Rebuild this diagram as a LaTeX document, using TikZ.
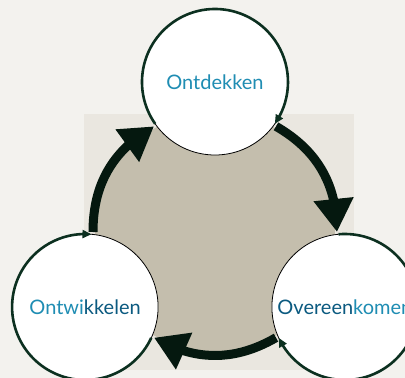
\documentclass[tikz,border=0pt]{standalone}
\usepackage{fontspec}
\setmainfont{Lato}
\usetikzlibrary{arrows.meta,bending}
\definecolor{achter}{HTML}{F3F2EE}
\definecolor{vlak}{HTML}{EAE7E0}
\definecolor{zand}{HTML}{C4BEAD}
\definecolor{donker}{HTML}{05180F}
\definecolor{rand}{HTML}{0C3020}
\definecolor{blauw}{HTML}{1F8DB3}
\definecolor{diep}{HTML}{0B5A80}

\begin{document}
\begin{tikzpicture}[x=1pt,y=1pt,
    bol/.style={circle,draw=black,line width=0.8pt,fill=white,minimum size=146pt,
        inner sep=0pt,outer sep=0pt,font=\fontsize{20}{24}\selectfont,text=blauw},
    randpijl/.style={draw=rand,line width=2.6pt,-{Triangle[length=9pt,width=8pt]}},
    pijl/.style={draw=donker,line width=9pt,-{Triangle[length=33pt,width=38pt]}}]
    \path[use as bounding box,fill=achter] (-215,-146) rectangle (190,232);
    \clip (-215,-146) rectangle (190,232);
    \fill[vlak] (-131,-138) rectangle (139,118);
    \coordinate (M) at (0,0);
    \fill[zand] (M) circle[radius=120pt];
    \node[bol] (ontdekken) at (90:150) {Ontdekken};
    \node[bol] (ontwikkelen) at (210:150) {Ontwi{\color{diep}kkelen}};
    \node[bol] (overeenkomen) at (330:150) {{\color{diep}Overeen}komen};
    \draw[randpijl] (ontdekken.215) arc[start angle=215,end angle=-35,radius=73pt];
    \draw[randpijl] (ontwikkelen.335) arc[start angle=335,end angle=85,radius=73pt];
    \draw[randpijl] (overeenkomen.95) arc[start angle=95,end angle=-155,radius=73pt];
    \coordinate (a1) at (180:122);
    \coordinate (b1) at (120:122);
    \coordinate (a2) at (60:122);
    \coordinate (b2) at (0:122);
    \coordinate (a3) at (-60:122);
    \coordinate (b3) at (-120:122);
    \draw[pijl] (a1) to[bend left=30] (b1);
    \draw[pijl] (a2) to[bend left=30] (b2);
    \draw[pijl] (a3) to[bend left=30] (b3);
\end{tikzpicture}
\end{document}
